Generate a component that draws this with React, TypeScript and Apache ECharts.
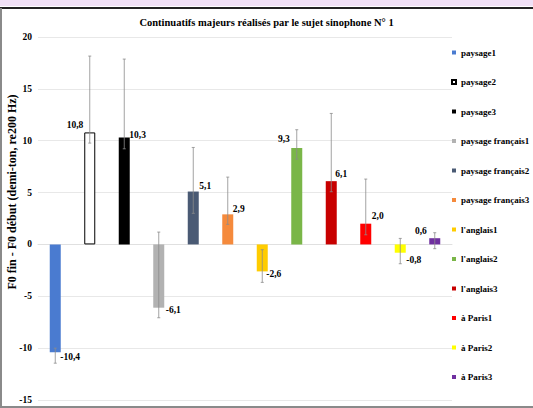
import React, { useEffect, useRef } from "react";
import * as echarts from "echarts";

const categories = [
  "paysage1",
  "paysage2",
  "paysage3",
  "paysage français1",
  "paysage français2",
  "paysage français3",
  "l'anglais1",
  "l'anglais2",
  "l'anglais3",
  "à Paris1",
  "à Paris2",
  "à Paris3",
];
const values = [-10.4, 10.8, 10.3, -6.1, 5.1, 2.9, -2.6, 9.3, 6.1, 2.0, -0.8, 0.6];
const errLow = [-11.45, 9.77, 9.22, -7.07, 3.0, 1.93, -3.66, 8.23, 5.08, 0.93, -1.86, -0.41];
const errHigh = [-10.0, 18.16, 17.87, 1.19, 9.35, 6.49, -0.51, 11.06, 12.63, 6.3, 0.58, 1.13];
const yTicks = { min: -15, max: 20, interval: 5 };

const colors = [
  "#4A7BD0",
  "#FFFFFF",
  "#000000",
  "#B2B2B2",
  "#4A5A74",
  "#F58A3C",
  "#FFCC00",
  "#7AB648",
  "#C80000",
  "#FF0000",
  "#FFFF00",
  "#7030A0",
];
// label placement relative to bar end (style only)
const labelDx = [5, -6.5, 5, 7, 6, 5, 4, -7, 4, 6, 6, -8];
const labelDy = [5, -7, -3, 2, -5.5, -5, 3, -8.5, -7, -7.5, 7, -7];

const FONT = "'Liberation Serif', 'Times New Roman', serif";

export default function App() {
  const ref = useRef<HTMLDivElement>(null);
  useEffect(() => {
    if (!ref.current) return;
    const chart = echarts.init(ref.current, undefined, { renderer: "svg" });
    const barSeries = categories.map((name, i) => ({
      name,
      type: "bar",
      barWidth: 11,
      barGap: "-100%",
      itemStyle:
        i === 1
          ? { color: "#FFFFFF", borderColor: "#000000", borderWidth: 1 }
          : { color: colors[i] },
      data: categories.map((_, j) => (j === i ? values[i] : "-")),
      z: 2,
    }));
    const errData = categories.map((_, i) => [i, values[i], errLow[i], errHigh[i]]);
    const option: any = {
      animation: false,
      backgroundColor: "#FFFFFF",
      title: {
        text: "Continuatifs majeurs réalisés par le sujet sinophone N° 1",
        left: "center",
        top: 12,
        textStyle: { fontFamily: FONT, fontWeight: "bold", fontSize: 10.5, color: "#000" },
      },
      legend: {
        orient: "vertical",
        left: 446,
        top: 43,
        icon: "rect",
        itemWidth: 4,
        itemHeight: 4,
        itemGap: 20.5,
        data: categories,
        textStyle: { fontFamily: FONT, fontWeight: "bold", fontSize: 9, color: "#000", lineHeight: 9 },
      },
      grid: { left: 38, right: 81, top: 37, bottom: 8 },
      xAxis: {
        type: "category",
        data: categories,
        axisLine: { show: true, lineStyle: { color: "#E0E0E0" } },
        axisTick: { show: false },
        axisLabel: { show: false },
      },
      yAxis: {
        type: "value",
        min: yTicks.min,
        max: yTicks.max,
        interval: yTicks.interval,
        axisLine: { show: false },
        axisTick: { show: false },
        splitLine: { lineStyle: { color: "#E8E8E8" } },
        axisLabel: { fontFamily: FONT, fontWeight: "bold", fontSize: 9.5, color: "#000", margin: 6 },
      },
      series: [
        ...barSeries,
        {
          type: "custom",
          name: "err",
          data: errData,
          z: 5,
          clip: false,
          encode: { x: 0, y: 1 },
          renderItem: (params: any, api: any) => {
            const i = api.value(0);
            const v = api.value(1);
            const p = api.coord([i, v]);
            const lo = api.coord([i, api.value(2)]);
            const hi = api.coord([i, api.value(3)]);
            const cx = p[0];
            const cap = 1.5;
            const stroke = { stroke: "#8C8C8C", lineWidth: 0.8 };
            const dx = labelDx[i];
            const txt = v.toFixed(1).replace(".", ",");
            return {
              type: "group",
              children: [
                { type: "line", shape: { x1: cx, y1: hi[1], x2: cx, y2: lo[1] }, style: stroke },
                { type: "line", shape: { x1: cx - cap, y1: hi[1], x2: cx + cap, y2: hi[1] }, style: stroke },
                { type: "line", shape: { x1: cx - cap, y1: lo[1], x2: cx + cap, y2: lo[1] }, style: stroke },
                {
                  type: "text",
                  x: cx + dx,
                  y: p[1] + labelDy[i],
                  style: {
                    text: txt,
                    align: dx < 0 ? "right" : "left",
                    verticalAlign: "middle",
                    fontFamily: FONT,
                    fontWeight: "bold",
                    fontSize: 9.5,
                    fill: "#000",
                  },
                },
              ],
            };
          },
        },
      ],
      graphic: [
        { type: "rect", shape: { x: 0, y: 0, width: 533, height: 6 }, style: { fill: "#F0E0F6" } },
        { type: "line", shape: { x1: 0, y1: 8, x2: 533, y2: 8 }, style: { stroke: "#222", lineWidth: 2 } },
        { type: "line", shape: { x1: 1, y1: 8, x2: 1, y2: 408 }, style: { stroke: "#8A8A8A", lineWidth: 2 } },
        { type: "line", shape: { x1: 0, y1: 407, x2: 533, y2: 407 }, style: { stroke: "#8A8A8A", lineWidth: 2 } },
        {
          type: "text",
          x: 12,
          y: 192,
          rotation: Math.PI / 2,
          style: {
            text: "F0 fin - F0 début (demi-ton, re200 Hz)",
            align: "center",
            verticalAlign: "middle",
            fontFamily: FONT,
            fontWeight: "bold",
            fontSize: 12,
            fill: "#000",
          },
        },
      ],
    };
    chart.setOption(option);
    return () => chart.dispose();
  }, []);
  return (
    <div
      ref={ref}
      style={{ position: "fixed", left: 0, top: 0, width: 533, height: 408 }}
    />
  );
}
